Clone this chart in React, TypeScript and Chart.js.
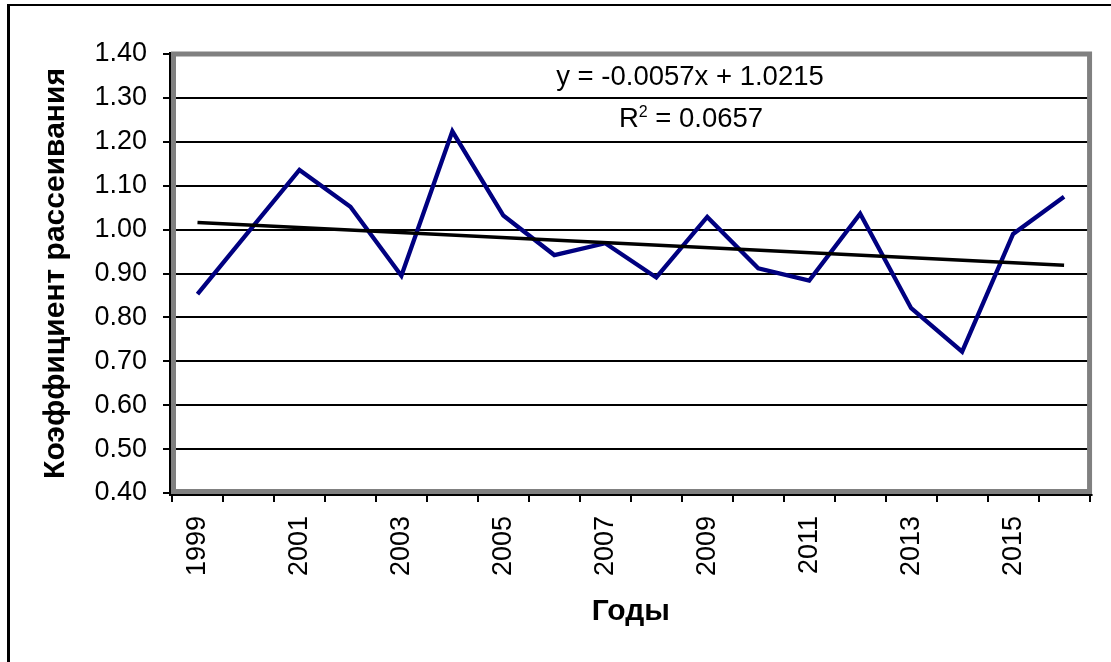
import React, { useEffect, useRef } from "react";
import { Chart, registerables } from "chart.js";

Chart.register(...registerables);

const FONT = "'Liberation Sans', Arial, sans-serif";

const years = [
  "1999", "2000", "2001", "2002", "2003", "2004", "2005", "2006", "2007",
  "2008", "2009", "2010", "2011", "2012", "2013", "2014", "2015", "2016",
];
const coefficient = [
  0.853, 0.995, 1.136, 1.052, 0.895, 1.224, 1.032, 0.942, 0.969,
  0.891, 1.029, 0.912, 0.884, 1.036, 0.821, 0.722, 0.99, 1.075,
];
const trendStart = 1.016;
const trendEnd = 0.919;
const yMin = 0.4;
const yMax = 1.4;
const yStep = 0.1;
const yTitle = "Коэффициент рассеивания";
const xTitle = "Годы";
const equationText = "y = -0.0057x + 1.0215";
const r2Text = "0.0657";

const trendData = years.map((_, i) =>
  i === 0 ? trendStart : i === years.length - 1 ? trendEnd : null
);

const decorPlugin = {
  id: "decor",
  beforeDraw(chart: any) {
    const { ctx, width, height } = chart;
    ctx.save();
    ctx.fillStyle = "#fff";
    ctx.fillRect(0, 0, width, height);
    ctx.fillStyle = "#000";
    ctx.fillRect(7, 4, 3, height);
    ctx.fillRect(7, 4, width, 2);
    ctx.restore();
  },
  beforeDatasetsDraw(chart: any) {
    const { ctx, chartArea } = chart;
    const { left, top, right, bottom } = chartArea;
    ctx.save();
    ctx.strokeStyle = "#808080";
    ctx.lineWidth = 5;
    ctx.strokeRect(left + 1.5, top, right - left - 1.5, bottom - top - 1.5);
    ctx.fillStyle = "#000";
    ctx.fillRect(left - 3, top - 2, 2, bottom - top + 5);
    ctx.fillRect(left - 3, bottom + 1, right - left + 6, 2);
    ctx.restore();
  },
  afterDatasetsDraw(chart: any) {
    const { ctx } = chart;
    ctx.save();
    ctx.fillStyle = "#000";
    ctx.textBaseline = "alphabetic";
    ctx.font = `27.5px ${FONT}`;
    ctx.textAlign = "center";
    ctx.fillText(equationText, 690, 85);
    // R² line
    const cx = 691;
    ctx.font = `27.5px ${FONT}`;
    const wR = ctx.measureText("R").width;
    const rest = " = " + r2Text;
    const wRest = ctx.measureText(rest).width;
    ctx.font = `16px ${FONT}`;
    const wSup = ctx.measureText("2").width;
    const total = wR + wSup + wRest;
    let x = cx - total / 2;
    ctx.textAlign = "left";
    ctx.font = `27.5px ${FONT}`;
    ctx.fillText("R", x, 127);
    x += wR;
    ctx.font = `16px ${FONT}`;
    ctx.fillText("2", x, 117);
    x += wSup;
    ctx.font = `27.5px ${FONT}`;
    ctx.fillText(rest, x, 127);
    ctx.restore();
  },
};

export default function App() {
  const ref = useRef<HTMLCanvasElement | null>(null);
  useEffect(() => {
    if (!ref.current) return;
    const chart = new Chart(ref.current, {
      type: "line",
      data: {
        labels: years,
        datasets: [
          {
            label: "trend",
            data: trendData,
            borderColor: "#000",
            borderWidth: 3.5,
            pointRadius: 0,
            spanGaps: true,
            tension: 0,
          },
          {
            label: "coef",
            data: coefficient,
            borderColor: "#000080",
            borderWidth: 4.3,
            pointRadius: 0,
            tension: 0,
          },
        ],
      },
      options: {
        responsive: false,
        animation: false,
        layout: { padding: { left: 0, top: 54, right: 19, bottom: 0 } },
        plugins: {
          legend: { display: false },
          tooltip: { enabled: false },
          title: { display: false },
        },
        scales: {
          x: {
            type: "category",
            offset: true,
            afterFit: (s: any) => {
              s.height = 169;
            },
            grid: {
              offset: true,
              drawOnChartArea: false,
              drawTicks: true,
              tickLength: 9,
              color: "#000",
              lineWidth: 2,
            },
            border: { display: false },
            ticks: {
              autoSkip: false,
              minRotation: 90,
              maxRotation: 90,
              padding: 14,
              color: "#000",
              font: { family: FONT, size: 27 },
              callback: (_v: any, i: number) => (i % 2 === 0 ? years[i] : ""),
            },
            title: {
              display: true,
              text: xTitle,
              color: "#000",
              font: { family: FONT, size: 30, weight: "bold" },
              padding: { top: 0, bottom: 32 },
            },
          },
          y: {
            min: yMin,
            max: yMax,
            afterFit: (s: any) => {
              s.width = 172;
            },
            grid: {
              color: "#000",
              lineWidth: 2,
              drawTicks: true,
              tickLength: 9,
            },
            border: { display: false },
            ticks: {
              stepSize: yStep,
              padding: 16,
              color: "#000",
              font: { family: FONT, size: 27 },
              callback: (v: any) => Number(v).toFixed(2),
            },
            title: {
              display: true,
              text: yTitle,
              color: "#000",
              font: { family: FONT, size: 30, weight: "bold" },
              padding: { top: 38, bottom: 0 },
            },
          },
        },
      },
      plugins: [decorPlugin],
    });
    return () => chart.destroy();
  }, []);
  return (
    <div style={{ position: "fixed", left: 0, top: 0, width: 1111, height: 662 }}>
      <canvas ref={ref} width={1111} height={662} style={{ display: "block" }} />
    </div>
  );
}
